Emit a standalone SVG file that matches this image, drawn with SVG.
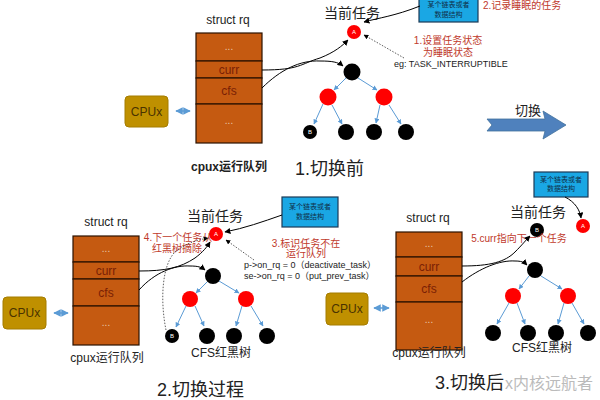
<svg xmlns="http://www.w3.org/2000/svg" width="600" height="400" viewBox="0 0 600 400">
<defs>
<marker id="ab" viewBox="0 0 10 10" refX="9" refY="5" markerWidth="5" markerHeight="5" orient="auto"><path d="M0,0L10,5L0,10z" fill="#5B9BD5"/></marker>
<marker id="ak" viewBox="0 0 10 10" refX="9" refY="5" markerWidth="6" markerHeight="6" orient="auto"><path d="M0,0L10,5L0,10z" fill="#000"/></marker>
<marker id="abs" viewBox="0 0 10 10" refX="1" refY="5" markerWidth="5" markerHeight="5" orient="auto"><path d="M10,0L0,5L10,10z" fill="#5B9BD5"/></marker>
<style>
text{font-family:"Liberation Sans","Noto Sans CJK SC",sans-serif;}
.row{fill:#C55A11;stroke:#2b1200;stroke-width:1.2;}
.rl{font-size:12px;fill:#7a1f05;text-anchor:middle;}
.dots{font-size:10px;fill:#e8c8a8;text-anchor:middle;}
.cpu{fill:#BF9000;stroke:#a47c00;stroke-width:1;}
.cput{font-size:12px;fill:#4a3300;text-anchor:middle;}
.lbl{font-size:12px;fill:#222;text-anchor:middle;}
.cur{font-size:14px;fill:#222;text-anchor:middle;}
.big{font-size:18px;fill:#222;}
.red{fill:#FF0000;}
.blk{fill:#000;}
.nt{font-size:6px;fill:#fff;text-anchor:middle;}
.note{font-size:10px;fill:#C0392B;text-anchor:middle;}
.code{font-size:9px;fill:#222;}
.box{fill:#1AA7E4;stroke:#1b3a57;stroke-width:1.2;}
.bt{font-size:7px;fill:#10304a;text-anchor:middle;}
.te{stroke:#5B9BD5;stroke-width:1;fill:none;marker-end:url(#ab);}
.ke{stroke:#000;stroke-width:1;fill:none;marker-end:url(#ak);}
.de{stroke:#333;stroke-width:0.8;stroke-dasharray:1.5,1.5;fill:none;marker-end:url(#ak);}
.dbl{stroke:#5B9BD5;stroke-width:1.5;fill:none;marker-end:url(#ab);marker-start:url(#abs);}
</style>
</defs>

<!-- ===== Section 1 ===== -->
<g id="s1-title"><text x="228" y="24" class="lbl">struct rq</text></g>
<g id="s1-rq">
<rect x="196" y="33" width="66" height="28" class="row"/><text x="229" y="50" class="dots">...</text>
<rect x="196" y="61" width="66" height="17" class="row"/><text x="229" y="74" class="rl">curr</text>
<rect x="196" y="78" width="66" height="26" class="row"/><text x="229" y="95" class="rl">cfs</text>
<rect x="196" y="104" width="66" height="39" class="row"/><text x="229" y="124" class="dots">...</text>
</g>
<g id="s1-cpu"><rect x="125" y="96" width="43" height="31" rx="4" class="cpu"/><text x="146.5" y="116" class="cput">CPUx</text></g>
<g id="s1-rqlabel"><text x="229" y="171" class="lbl" style="font-weight:bold">cpux运行队列</text></g>
<g id="s1-curtask"><text x="352" y="18" class="cur">当前任务</text></g>
<g id="s1-A"><circle cx="354" cy="32" r="7" class="red"/><text x="354" y="34" class="nt">A</text></g>
<g id="s1-root"><circle cx="352" cy="72" r="8.5" class="blk"/></g>
<g id="s1-rl"><circle cx="328" cy="97" r="8.5" class="red"/></g>
<g id="s1-rr"><circle cx="384" cy="97" r="8.5" class="red"/></g>
<g id="s1-B"><circle cx="310" cy="132" r="7" class="blk"/><text x="310" y="134" class="nt">B</text></g>
<g id="s1-l2"><circle cx="346" cy="132" r="8" class="blk"/></g>
<g id="s1-l3"><circle cx="374" cy="132" r="8" class="blk"/></g>
<g id="s1-l4"><circle cx="406" cy="132" r="8" class="blk"/></g>
<g id="s1-box"><rect x="419" y="-6" width="59" height="28" class="box"/><text x="448.5" y="7" class="bt">某个链表或者</text><text x="448.5" y="17" class="bt">数据结构</text></g>
<g id="s1-notes">
<text x="483" y="9" class="note" style="text-anchor:start">2.记录睡眠的任务</text>
<text x="448" y="44" class="note">1.设置任务状态</text>
<text x="448" y="56" class="note">为睡眠状态</text>
<text x="394" y="67" class="code">eg: TASK_INTERRUPTIBLE</text>
</g>
<g id="s1-caption"><text x="295" y="175" class="big">1.切换前</text></g>
<g id="switch-arrow">
<path d="M487,119 L545,119 L543,111 L566,125 L543,139 L545,131 L487,131 L492,125 Z" fill="#4F81BD" stroke="#41719C" stroke-width="0.8"/>
<text x="528" y="115" style="font-size:13px;fill:#222;text-anchor:middle">切换</text>
</g>

<!-- ===== Section 2 ===== -->
<g id="s2-title"><text x="106" y="226" class="lbl">struct rq</text></g>
<g id="s2-rq">
<rect x="73" y="236" width="66" height="26" class="row"/><text x="106" y="252" class="dots">...</text>
<rect x="73" y="262" width="66" height="17" class="row"/><text x="106" y="275" class="rl">curr</text>
<rect x="73" y="279" width="66" height="27" class="row"/><text x="106" y="297" class="rl">cfs</text>
<rect x="73" y="306" width="66" height="39" class="row"/><text x="106" y="326" class="dots">...</text>
</g>
<g id="s2-cpu"><rect x="3" y="297" width="43" height="32" rx="4" class="cpu"/><text x="24.5" y="317" class="cput">CPUx</text></g>
<g id="s2-rqlabel"><text x="107" y="362" class="lbl">cpux运行队列</text></g>
<g id="s2-curtask"><text x="215" y="221" class="cur">当前任务</text></g>
<g id="s2-A"><circle cx="216" cy="234" r="7" class="red"/><text x="216" y="236" class="nt">A</text></g>
<g id="s2-root"><circle cx="213" cy="276" r="8" class="blk"/></g>
<g id="s2-rl"><circle cx="190" cy="299" r="8" class="red"/></g>
<g id="s2-rr"><circle cx="246" cy="299" r="8" class="red"/></g>
<g id="s2-B"><circle cx="172" cy="336" r="7" class="blk"/><text x="172" y="338" class="nt">B</text></g>
<g id="s2-l2"><circle cx="207" cy="336" r="8" class="blk"/></g>
<g id="s2-l3"><circle cx="234" cy="336" r="8" class="blk"/></g>
<g id="s2-l4"><circle cx="267" cy="336" r="8" class="blk"/></g>
<g id="s2-cfs"><text x="221" y="357" class="lbl">CFS红黑树</text></g>
<g id="s2-box"><rect x="282" y="197" width="56" height="30" class="box"/><text x="310" y="209" class="bt">某个链表或者</text><text x="310" y="219" class="bt">数据结构</text></g>
<g id="s2-notes">
<text x="178" y="241" class="note">4.下一个任务从</text>
<text x="177" y="252" class="note">红黑树摘除</text>
<text x="306" y="247" class="note">3.标识任务不在</text>
<text x="306" y="257" class="note">运行队列</text>
<text x="244" y="268" class="code">p-&gt;on_rq = 0（deactivate_task）</text>
<text x="244" y="279" class="code">se-&gt;on_rq = 0（put_prev_task）</text>
</g>
<g id="s2-caption"><text x="157" y="396" class="big">2.切换过程</text></g>

<!-- ===== Section 3 ===== -->
<g id="s3-title"><text x="428" y="222" class="lbl">struct rq</text></g>
<g id="s3-rq">
<rect x="396" y="232" width="66" height="25" class="row"/><text x="429" y="247" class="dots">...</text>
<rect x="396" y="257" width="66" height="19" class="row"/><text x="429" y="271" class="rl">curr</text>
<rect x="396" y="276" width="66" height="26" class="row"/><text x="429" y="293" class="rl">cfs</text>
<rect x="396" y="302" width="66" height="48" class="row"/><text x="429" y="323" class="dots">...</text>
</g>
<g id="s3-cpu"><rect x="326" y="293" width="42" height="32" rx="4" class="cpu"/><text x="347" y="313" class="cput">CPUx</text></g>
<g id="s3-rqlabel"><text x="429" y="357" class="lbl">cpux运行队列</text></g>
<g id="s3-curtask"><text x="538" y="217" class="cur">当前任务</text></g>
<g id="s3-B"><circle cx="537" cy="230" r="7" class="blk"/><text x="537" y="232" class="nt">B</text></g>
<g id="s3-A"><circle cx="583" cy="226" r="7" class="red"/><text x="583" y="228" class="nt">A</text></g>
<g id="s3-root"><circle cx="535" cy="270" r="8" class="blk"/></g>
<g id="s3-rl"><circle cx="513" cy="296" r="8" class="red"/></g>
<g id="s3-rr"><circle cx="568" cy="296" r="8" class="red"/></g>
<g id="s3-l1"><circle cx="493" cy="333" r="8" class="blk"/></g>
<g id="s3-l2"><circle cx="528" cy="333" r="8" class="blk"/></g>
<g id="s3-l3"><circle cx="556" cy="333" r="8" class="blk"/></g>
<g id="s3-l4"><circle cx="588" cy="333" r="8" class="blk"/></g>
<g id="s3-cfs"><text x="542" y="352" class="lbl">CFS红黑树</text></g>
<g id="s3-box"><rect x="534" y="172" width="54" height="25" class="box"/><text x="561" y="182" class="bt">某个链表或者</text><text x="561" y="191" class="bt">数据结构</text></g>
<g id="s3-notes"><text x="519" y="242" class="note">5.curr指向下一个任务</text></g>
<g id="s3-caption"><text x="435" y="389" class="big">3.切换后</text><text x="505" y="389" style="font-size:16px;fill:#bbb">x内核远航者</text></g>

<!-- ===== Connectors ===== -->
<g id="connectors">
<!-- section 1 -->
<path class="dbl" d="M176,111 L190,111"/>
<path class="te" d="M346,78 L334,90"/>
<path class="te" d="M358,78 L377,90"/>
<path class="te" d="M323,104 L314,124"/>
<path class="te" d="M332,105 L342,124"/>
<path class="te" d="M380,105 L376,123"/>
<path class="te" d="M389,105 L401,124"/>
<path class="ke" d="M262,70 C300,70 300,64 320,58 C335,52 342,46 348,40"/>
<path class="ke" d="M262,88 C280,70 300,60 320,61 C332,61 338,62 343,66"/>
<path class="ke" d="M420,6 C395,16 378,18 364,22"/>
<path class="de" d="M404,58 L364,35"/>
<!-- section 2 -->
<path class="dbl" d="M54,313 L68,313"/>
<path class="te" d="M207,282 L196,293"/>
<path class="te" d="M219,281 L239,293"/>
<path class="te" d="M186,306 L176,327"/>
<path class="te" d="M195,306 L204,326"/>
<path class="te" d="M242,306 L236,326"/>
<path class="te" d="M251,306 L263,326"/>
<path class="ke" d="M139,271 C165,271 180,268 195,258 C203,252 207,247 210,242"/>
<path class="ke" d="M139,290 C155,272 175,265 190,266 C198,266 201,267 205,270"/>
<path class="ke" d="M282,215 C262,222 245,228 225,232"/>
<path class="de" d="M254,260 L226,240"/>
<path class="de" d="M166,330 C160,300 162,265 175,252 C188,242 198,240 208,238"/>
<!-- section 3 -->
<path class="dbl" d="M374,308 L389,308"/>
<path class="te" d="M529,276 L519,289"/>
<path class="te" d="M541,276 L562,289"/>
<path class="te" d="M509,303 L497,324"/>
<path class="te" d="M517,303 L525,324"/>
<path class="te" d="M564,303 L558,324"/>
<path class="te" d="M572,303 L584,324"/>
<path class="ke" d="M462,266 C490,266 505,262 515,252 C522,245 526,240 530,236"/>
<path class="ke" d="M462,282 C480,268 500,260 515,261 C521,261 524,262 527,265"/>
<path class="ke" d="M565,197 C575,202 580,210 581,218"/>
</g>
</svg>
